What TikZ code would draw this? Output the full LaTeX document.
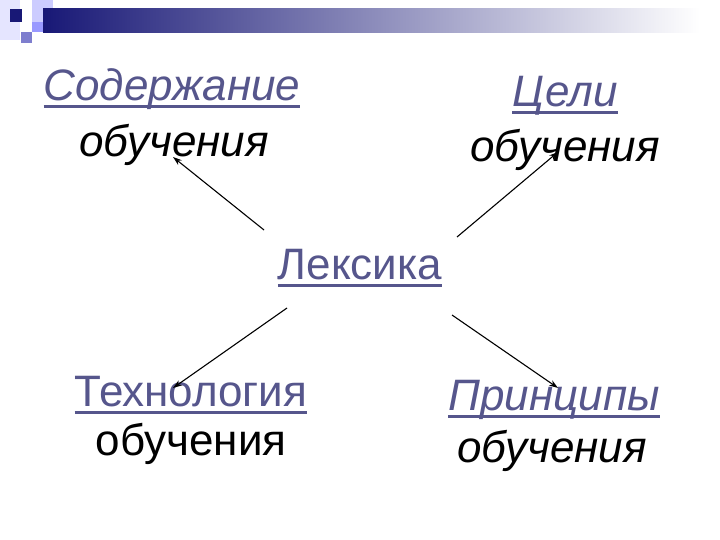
\documentclass[tikz,border=0pt]{standalone}
\usepackage{fontspec}
\setmainfont{Liberation Sans}
\usetikzlibrary{arrows.meta}
\definecolor{linkblue}{RGB}{86,86,140}
\definecolor{barnavy}{RGB}{24,24,118}
\newsavebox{\lnkbox}
\newcommand{\lnk}[1]{{\color{linkblue}\sbox{\lnkbox}{#1}\rlap{\usebox{\lnkbox}}\rule[-7.5pt]{\wd\lnkbox}{3pt}}}

\begin{document}
\begin{tikzpicture}[x=1pt,y=-1pt,
    word/.style={anchor=base,inner sep=0pt,font=\fontsize{44}{50}\selectfont},
    slant/.style={word,font=\fontsize{44}{50}\selectfont\itshape},
    arr/.style={-{Stealth[length=9pt,width=6pt]},line width=1.1pt}]
  \useasboundingbox (0,0) rectangle (720,540);
  % squares and bar at the top
  \fill[blue!10!white] (0,0) rectangle (20,40);
  \fill[blue!20!white] (32,0) rectangle (53,22);
  \fill[blue!40!white] (32,22) rectangle (43,32);
  \fill[blue!45!gray!70!white] (21,32) rectangle (32,43);
  \fill[barnavy] (10,9) rectangle (22,22);
  \shade[left color=barnavy,right color=white] (43,9) rectangle (700,33);
  % texts
  \node[slant] (cont) at (172,101) {\lnk{Содержание}};
  \node[slant] (cont2) at (174,157) {обучения};
  \node[slant] (goal) at (565,107) {\lnk{Цели}};
  \node[slant] (goal2) at (565,162) {обучения};
  \node[word] (lex) at (360,279) {\lnk{Лексика}};
  \node[word] (tech) at (191,406) {\lnk{Технология}};
  \node[word] (tech2) at (191,455) {обучения};
  \node[slant] (prin) at (554,410) {\lnk{Принципы}};
  \node[slant] (prin2) at (552,462) {обучения};
  % arrows
  \draw[arr] ([xshift=-96pt,yshift=49pt]lex.base) -- ([xshift=-1pt]cont2.base);
  \draw[arr] ([xshift=97pt,yshift=42pt]lex.base) -- ([xshift=-7pt,yshift=10pt]goal2.base);
  \draw[arr] ([xshift=-73pt,yshift=-29pt]lex.base) -- ([xshift=-18pt,yshift=18pt]tech.base);
  \draw[arr] ([xshift=92pt,yshift=-36pt]lex.base) -- ([xshift=4pt,yshift=22pt]prin.base);
\end{tikzpicture}
\end{document}
